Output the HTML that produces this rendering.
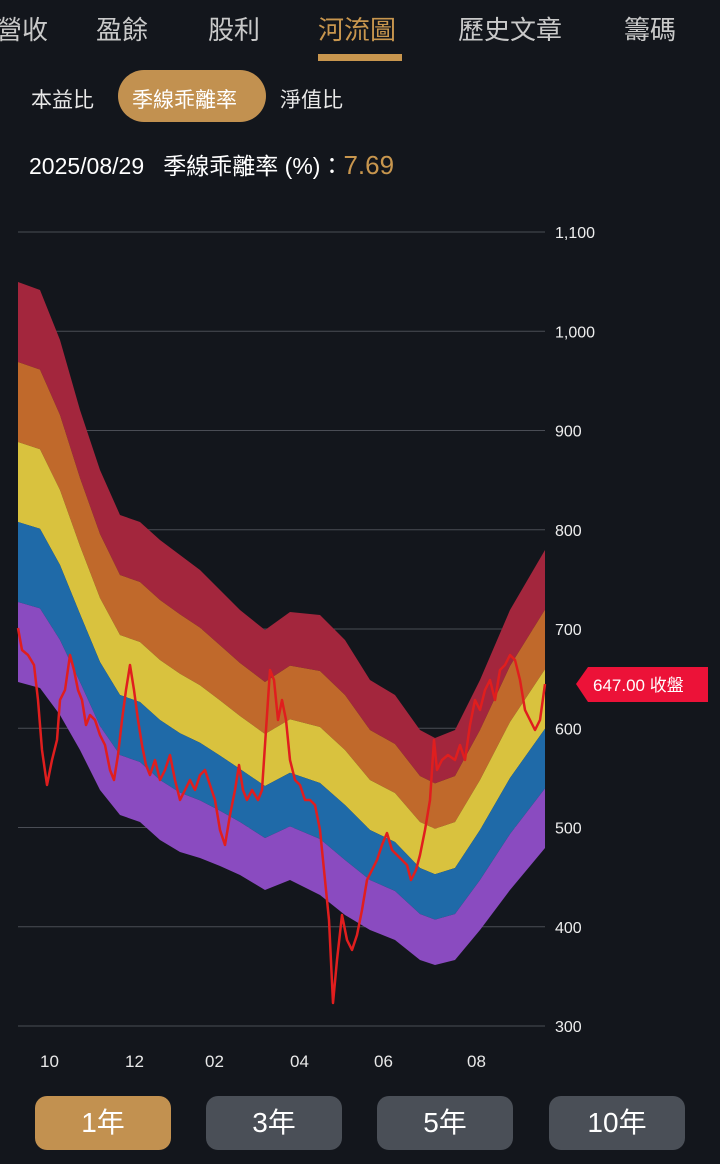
<!DOCTYPE html>
<html><head><meta charset="utf-8"><style>
body{margin:0;width:720px;height:1164px;background:#13161c;overflow:hidden;font-family:"Liberation Sans","Noto Sans CJK TC",sans-serif;color:#e8e8e8;position:relative}
.t{position:absolute;white-space:nowrap}
.tab{top:10px;font-size:26px;color:#c9c9c9}
.btn{position:absolute;top:1096px;height:54px;width:136px;border-radius:12px;background:#4a4f57;color:#fff;font-size:28px;text-align:center;line-height:54px}
</style></head><body>
<div class="t tab" style="left:-4px">營收</div>
<div class="t tab" style="left:96px">盈餘</div>
<div class="t tab" style="left:208px">股利</div>
<div class="t tab" style="left:318px;color:#c8964e">河流圖</div>
<div style="position:absolute;left:318px;top:54px;width:84px;height:7px;background:#c8964e"></div>
<div class="t tab" style="left:458px">歷史文章</div>
<div class="t tab" style="left:624px">籌碼</div>
<div class="t" style="left:31px;top:84px;font-size:21px">本益比</div>
<div style="position:absolute;left:118px;top:70px;width:148px;height:52px;border-radius:26px;background:#c29150"></div>
<div class="t" style="left:132px;top:84px;font-size:21px;color:#fff">季線乖離率</div>
<div class="t" style="left:280px;top:84px;font-size:21px">淨值比</div>
<div class="t" style="left:29px;top:147px;font-size:23px;color:#fff">2025/08/29&nbsp;&nbsp; 季線乖離率 (%)：<span style="color:#c8964e;font-size:26px">7.69</span></div>
<svg id="s" width="720" height="1164" style="position:absolute;left:0;top:0"></svg>
<div class="t" style="left:40px;top:1052px;font-size:17px">10</div>
<div class="t" style="left:125px;top:1052px;font-size:17px">12</div>
<div class="t" style="left:205px;top:1052px;font-size:17px">02</div>
<div class="t" style="left:290px;top:1052px;font-size:17px">04</div>
<div class="t" style="left:374px;top:1052px;font-size:17px">06</div>
<div class="t" style="left:467px;top:1052px;font-size:17px">08</div>
<div class="btn" style="left:35px;background:#c29150">1年</div>
<div class="btn" style="left:206px">3年</div>
<div class="btn" style="left:377px">5年</div>
<div class="btn" style="left:549px">10年</div>
<script>
var s=document.getElementById('s'),h='';
var labels=['1,100','1,000','900','800','700','600','500','400','300'];
for(var i=0;i<9;i++){var y=232+i*99.25;h+='<line x1="18" x2="545" y1="'+y+'" y2="'+y+'" stroke="#4a4d55" stroke-width="1"/>';h+='<text x="555" y="'+(y+6)+'" fill="#eee" font-size="16" font-family="Liberation Sans">'+labels[i]+'</text>';}
var P=[[18,282,682],[40,290,688],[60,340,715],[80,410,750],[100,470,790],[120,515,815],[140,522,822],[160,540,840],[180,555,852],[200,570,858],[220,590,866],[240,610,875],[265,630,890],[290,612,880],[320,615,895],[345,640,915],[370,680,930],[395,695,940],[420,730,960],[435,738,965],[455,730,960],[480,680,930],[510,610,890],[545,550,848]];
var cols=['#a3263d','#c0692b','#d9c23e','#1f6aa8','#8a4bc0'];
function b(k,p){return p[1]+(p[2]-p[1])*k/5;}
for(var k=0;k<5;k++){var d='M';P.forEach(function(p){d+=p[0]+','+b(k,p)+' ';});for(var j=P.length-1;j>=0;j--){d+='L'+P[j][0]+','+b(k+1,P[j])+' ';}h+='<path d="'+d+'Z" fill="'+cols[k]+'"/>';}
var L=[18,628,22,650,28,655,34,665,38,700,42,750,47,785,52,760,57,740,60,700,65,690,70,655,74,670,78,690,82,700,86,725,90,715,95,720,100,735,105,745,110,770,114,780,118,755,122,720,126,690,130,665,134,690,138,720,142,745,146,765,150,775,155,760,160,780,165,770,170,755,175,780,180,800,185,790,190,780,195,790,200,775,205,770,210,785,215,800,220,830,225,845,230,815,235,790,239,765,243,790,247,800,252,790,258,800,262,790,266,730,270,670,274,680,278,720,282,700,286,720,290,760,295,780,300,785,305,800,310,800,315,805,320,830,323,860,326,890,329,920,333,1003,337,960,342,915,347,940,352,950,357,935,362,910,367,880,372,870,377,860,382,845,387,833,392,850,397,855,402,860,407,865,411,880,416,870,420,855,425,830,430,800,434,740,437,770,442,760,448,755,455,760,460,745,465,760,470,725,475,700,480,710,485,690,490,680,495,700,500,670,505,665,510,655,515,660,520,680,525,710,530,720,535,730,540,720,545,684];
var d='M';for(var i=0;i<L.length;i+=2)d+=L[i]+','+L[i+1]+' ';
h+='<path d="'+d+'" fill="none" stroke="#e01e1e" stroke-width="2.5" stroke-linejoin="round"/>';
h+='<polygon points="576,684 588,667 708,667 708,702 588,702" fill="#ec1238"/>';
h+='<text x="593" y="691" fill="#fff" font-size="17" font-family="Liberation Sans,Noto Sans CJK TC,sans-serif">647.00 收盤</text>';
s.innerHTML=h;
</script>
</body></html>
